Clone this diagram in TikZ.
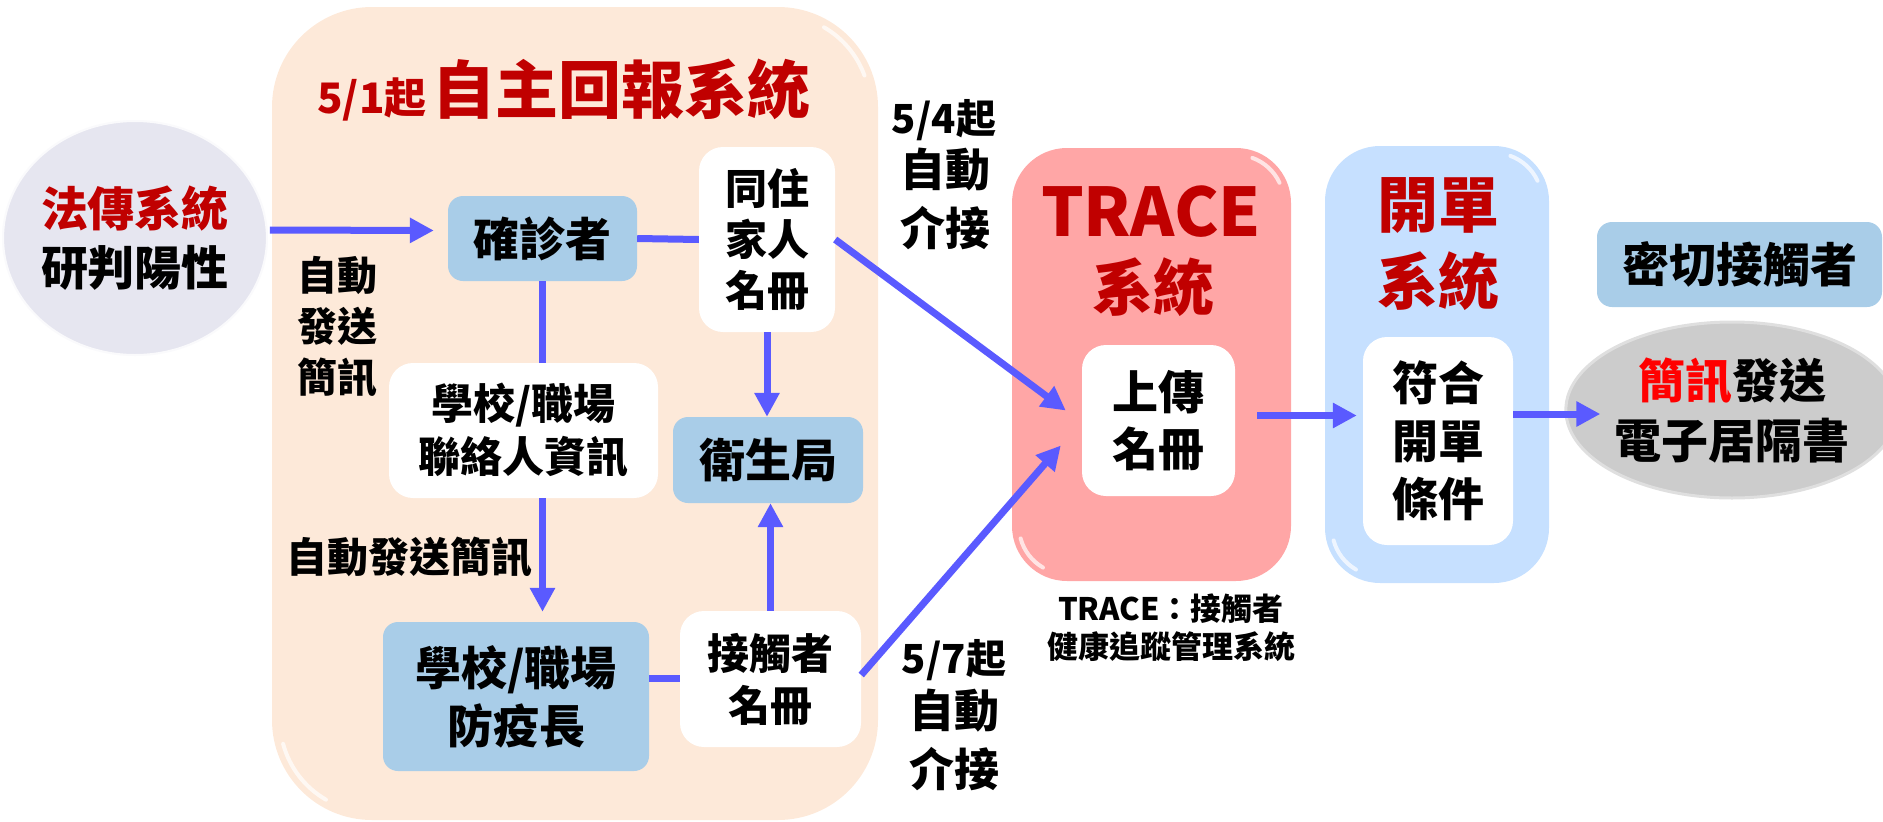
\documentclass[tikz,border=0pt]{standalone}
\usepackage{fontspec}
\setmainfont{Noto Sans CJK TC}
\usetikzlibrary{arrows.meta,shapes.geometric,calc}
\definecolor{peach}{RGB}{253,233,217}
\definecolor{lblue}{RGB}{169,205,232}
\definecolor{arrblue}{RGB}{90,90,255}
\definecolor{dred}{RGB}{192,0,0}
\definecolor{pinkbox}{RGB}{255,166,166}
\definecolor{skyb}{RGB}{198,224,255}
\definecolor{lav}{RGB}{230,230,240}
\definecolor{gry}{RGB}{204,204,204}
\newcommand\fs[2]{\fontsize{#1}{#2}\selectfont\bfseries}
\begin{document}
\begin{tikzpicture}[x=1pt,y=-1pt,
  bluebox/.style={fill=lblue, rounded corners=15pt, inner sep=0pt, align=center},
  whitebox/.style={fill=white, rounded corners=24pt, inner sep=0pt, align=center},
  bigbox/.style={rounded corners=55pt, inner sep=0pt},
  glare/.style={draw=white, line width=4pt, opacity=0.7, line cap=round},
  conn/.style={draw=arrblue, line width=7pt},
  arr/.style={conn, -{Triangle[width=24pt,length=24pt]}},
  lbl/.style={inner sep=0pt, align=center}]
\useasboundingbox (0,0) rectangle (1883,822);

% containers
\node[fill=peach, rounded corners=100pt, minimum width=606pt, minimum height=813pt, inner sep=0pt] (peachbox) at (575,413.5) {};
\node[bigbox, fill=pinkbox, minimum width=279pt, minimum height=433pt] (trace) at (1151.5,364.5) {};
\node[bigbox, fill=skyb, minimum width=224pt, minimum height=437pt] (kaidan) at (1437,364.5) {};

% glossy corner highlights
\draw[glare] (824,27.3) arc[start angle=-60, end angle=-20, radius=92];
\draw[glare] (283.1,743.8) arc[start angle=165, end angle=120, radius=92];
\draw[glare] (1252.4,157.9) arc[start angle=-70, end angle=-25, radius=48];
\draw[glare] (1020.6,538.4) arc[start angle=165, end angle=120, radius=48];
\draw[glare] (1510.4,155.9) arc[start angle=-70, end angle=-25, radius=48];
\draw[glare] (1333.6,540.4) arc[start angle=165, end angle=120, radius=48];

% titles
\node[lbl, anchor=base, text=dred] (title) at (564,113) {{\fs{42}{42}5/1起}\hspace{6pt}{\fs{63}{63}自主回報系統}};
\node[lbl, text=dred, font=\fs{67}{67}] (tracet) at (1151,212) {TRACE};
\node[lbl, text=dred, font=\fs{61}{61}] (traces) at (1153,287) {系統};
\node[lbl, text=dred, font=\fs{61}{61}] (kaidant) at (1438,205) {開單};
\node[lbl, text=dred, font=\fs{61}{61}] (kaidans) at (1438,281) {系統};

% left ellipse
\node[ellipse, fill=lav, draw=white, draw opacity=0.8, line width=4pt, minimum width=232pt, minimum height=236pt, inner sep=0pt, align=center, font=\fs{47}{59}] (lsys) at (135,238) {\textcolor{dred}{法傳系統}\\研判陽性};

% boxes in peach
\node[bluebox, minimum width=189pt, minimum height=85pt, font=\fs{46}{56}] (conf) at (542.5,238.5) {確診者};
\node[whitebox, minimum width=136pt, minimum height=185pt, font=\fs{42}{51}] (family) at (767,239.5) {同住\\家人\\名冊};
\node[whitebox, minimum width=269pt, minimum height=135pt, font=\fs{42}{53}] (contact) at (523.5,430.5) {學校/職場\\聯絡人資訊};
\node[bluebox, minimum width=190pt, minimum height=86pt, font=\fs{46}{56}] (health) at (768,460) {衛生局};
\node[bluebox, minimum width=266pt, minimum height=149pt, font=\fs{46}{58}] (chief) at (516,696.5) {學校/職場\\防疫長};
\node[whitebox, minimum width=181pt, minimum height=136pt, font=\fs{42}{52}] (clist) at (770.5,679) {接觸者\\名冊};

% TRACE / 開單 inner boxes
\node[whitebox, minimum width=153pt, minimum height=151pt, font=\fs{46}{57}] (upload) at (1158.5,420.5) {上傳\\名冊};
\node[whitebox, minimum width=150pt, minimum height=208pt, font=\fs{46}{58}] (meet) at (1438,441) {符合\\開單\\條件};

% right side
\node[bluebox, minimum width=285pt, minimum height=85pt, font=\fs{47}{57}] (close) at (1739.5,264.5) {密切接觸者};
\node[ellipse, fill=gry, draw=gray!25, line width=3pt, minimum width=314pt, minimum height=176pt, inner sep=0pt, align=center, font=\fs{47}{60}] (sms) at (1732,410) {\textcolor{red}{簡訊}發送\\電子居隔書};

% labels
\node[lbl, font=\fs{40}{51}] (lab1) at (337,327) {自動\\發送\\簡訊};
\node[lbl, font=\fs{41}{51}] (lab2) at (409,557) {自動發送簡訊};
\node[lbl, font=\fs{40}{46}] (lab54a) at (944,120) {5/4起};
\node[lbl, font=\fs{45}{56}] (lab54b) at (945,170) {自動};
\node[lbl, font=\fs{45}{56}] (lab54c) at (945,228) {介接};
\node[lbl, font=\fs{40}{46}] (lab57a) at (954,660) {5/7起};
\node[lbl, font=\fs{45}{56}] (lab57b) at (954,711) {自動};
\node[lbl, font=\fs{45}{56}] (lab57c) at (954,769) {介接};
\node[lbl, font=\fs{31}{38}] (tracelbl) at (1171,628) {TRACE：接觸者\\健康追蹤管理系統};

% connectors
\draw[arr] ([yshift=8pt]lsys.east) -- ($(conf.west)+(-14,-8)$);
\draw[conn] (conf.east) -- (family.west);
\draw[conn] (conf.south) -- (conf.south |- contact.north);
\draw[arr, shorten >=10pt] (conf.south |- contact.south) -- (conf.south |- chief.north);
\draw[arr] (family.south) -- (family.south |- health.north);
\draw[arr] (clist.north) -- (clist.north |- health.south);
\draw[conn] ($(clist.west)+(0,-1)$) -- ($(clist.west -| chief.east)+(0,-1)$);
\draw[arr] (family.east) -- ($(upload.west)+(-16,-10)$);
\draw[arr] ($(clist.east)+(0,-4)$) -- ($(upload.west)+(-21,25)$);
\draw[arr, shorten <=22pt, shorten >=6pt] ($(upload.east)+(0,-5)$) -- ($(upload.east -| meet.west)+(0,-5)$);
\draw[arr] ($(meet.east)+(0,-27)$) -- ($(sms.west)+(36,4)$);
\end{tikzpicture}
\end{document}
